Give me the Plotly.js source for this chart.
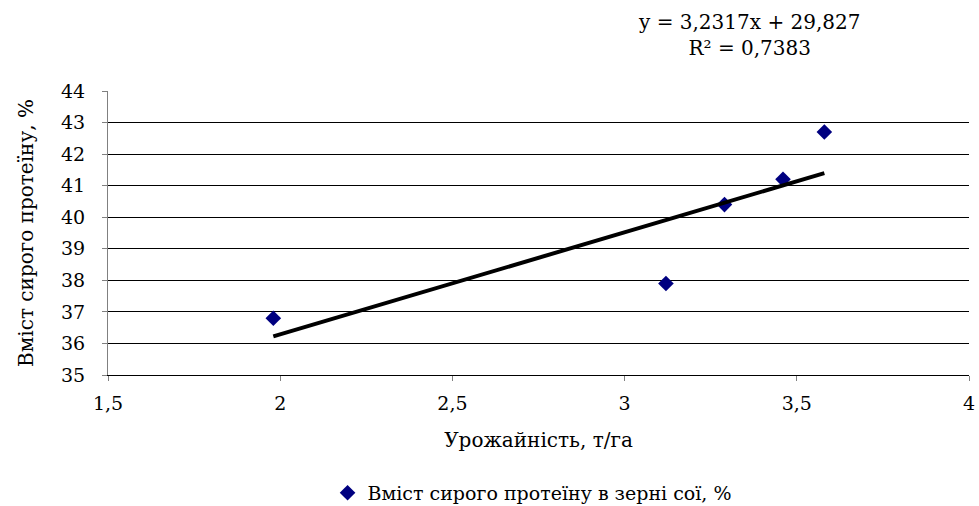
<!DOCTYPE html>
<html><head><meta charset="utf-8">
<script src="https://cdn.plot.ly/plotly-3.0.1.min.js"></script>
<style>body{margin:0;background:#fff}#c{width:979px;height:506px}</style>
</head><body><div id="c"></div>
<script>
const yieldX = [1.98, 3.12, 3.29, 3.46, 3.58];
const protein = [36.8, 37.9, 40.4, 41.2, 42.7];
const slope = 3.2317, intercept = 29.827, r2 = 0.7383;
const seriesName = "Вміст сирого протеїну в зерні сої, %";
const xTickVals = [1.5, 2, 2.5, 3, 3.5, 4];
const xTickText = ["1,5", "2", "2,5", "3", "3,5", "4"];
const yTickVals = [35, 36, 37, 38, 39, 40, 41, 42, 43, 44];

const xmin = Math.min(...yieldX), xmax = Math.max(...yieldX);
const trendX = [xmin, xmax];
const trendY = trendX.map(v => slope * v + intercept);
const F = "DejaVu Serif";

const data = [
  {x: yieldX, y: protein, type: "scatter", mode: "markers", name: seriesName,
   marker: {symbol: "diamond", color: "#000080", size: 12}},
  {x: trendX, y: trendY, type: "scatter", mode: "lines", showlegend: false,
   line: {color: "#000000", width: 4}}
];
const layout = {
  width: 979, height: 506,
  margin: {l: 108, r: 10, t: 91, b: 131, autoexpand: false},
  paper_bgcolor: "#fff", plot_bgcolor: "#fff",
  font: {family: F, size: 19, color: "#000"},
  xaxis: {range: [1.5, 4], tickvals: xTickVals, ticktext: xTickText, automargin: false,
    showgrid: false, zeroline: false, showline: true, linecolor: "#000", linewidth: 1,
    ticks: "outside", ticklen: 5, tickcolor: "#808080", ticklabelstandoff: 6,
    title: {text: "Урожайність, т/га", font: {family: F, size: 20}, standoff: 20}},
  yaxis: {range: [35, 44], tickvals: yTickVals, automargin: false,
    showgrid: true, gridcolor: "#000", gridwidth: 1, zeroline: false,
    showline: true, linecolor: "#808080", linewidth: 1,
    ticks: "outside", ticklen: 5, tickcolor: "#808080", ticklabelstandoff: 13,
    title: {text: "Вміст сирого протеїну, %", font: {family: F, size: 20}, standoff: 22}},
  legend: {orientation: "h", x: 0.255, xanchor: "left", y: -0.415, yanchor: "middle",
    font: {family: F, size: 19}},
  annotations: [{xref: "paper", yref: "paper", x: 0.745, y: 1.0, yshift: 56,
    xanchor: "center", yanchor: "middle", showarrow: false,
    text: "y = " + String(slope).replace(".", ",") + "x + " + String(intercept).replace(".", ",") +
      "<br>R² = " + String(r2).replace(".", ","),
    font: {family: F, size: 20}}]
};
Plotly.newPlot("c", data, layout, {displayModeBar: false, staticPlot: true});
</script></body></html>
